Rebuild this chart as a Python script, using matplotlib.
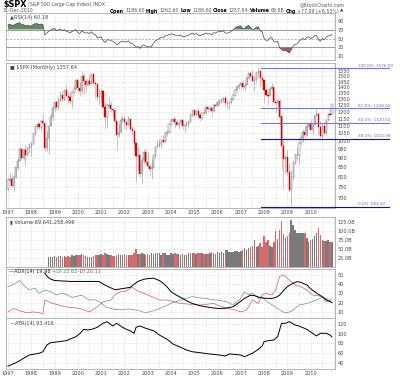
import numpy as np
import matplotlib
matplotlib.use("Agg")
import matplotlib.pyplot as plt

# monthly $SPX, Jan 1997 .. Dec 2010 (index 0 = Jan 1997)
years = list(range(1997, 2011))

opens = [740.74, 786.16, 790.82, 757.12, 801.34, 848.28, 885.14, 954.31, 899.47, 947.28, 914.62, 955.40,
         970.43, 980.28, 1049.34, 1101.75, 1111.75, 1090.82, 1133.84, 1120.67, 957.28, 1017.01, 1098.67, 1163.63,
         1229.23, 1279.64, 1238.33, 1286.37, 1335.18, 1301.84, 1372.71, 1328.72, 1320.41, 1282.71, 1362.93, 1388.91,
         1469.25, 1394.46, 1366.42, 1498.58, 1452.43, 1420.60, 1454.60, 1430.83, 1517.68, 1436.51, 1429.40, 1314.95,
         1320.28, 1366.01, 1239.94, 1160.33, 1249.46, 1255.82, 1224.38, 1211.23, 1133.58, 1040.94, 1059.78, 1139.45,
         1148.08, 1130.20, 1106.73, 1147.39, 1076.92, 1067.14, 989.82, 911.62, 916.07, 815.28, 885.76, 936.31,
         879.82, 855.70, 841.15, 848.18, 916.92, 963.59, 974.50, 990.31, 1008.01, 995.97, 1050.71, 1058.20,
         1111.92, 1131.13, 1144.94, 1126.21, 1107.30, 1120.68, 1140.84, 1101.72, 1104.24, 1114.58, 1130.20, 1173.82,
         1211.92, 1181.27, 1203.60, 1180.59, 1156.85, 1191.50, 1191.33, 1234.18, 1220.33, 1228.81, 1207.01, 1249.48,
         1248.29, 1280.08, 1280.66, 1294.83, 1310.61, 1270.09, 1270.20, 1276.66, 1303.82, 1335.85, 1377.94, 1400.63,
         1418.30, 1438.24, 1406.82, 1420.86, 1482.37, 1530.62, 1503.35, 1455.27, 1473.99, 1526.75, 1549.38, 1481.14,
         1468.36, 1378.55, 1330.63, 1322.70, 1385.59, 1400.38, 1280.00, 1267.38, 1282.83, 1166.36, 968.75, 896.24,
         903.25, 825.88, 735.09, 797.87, 872.81, 919.14, 919.32, 987.48, 1020.62, 1057.08, 1036.19, 1095.63,
         1115.10, 1073.87, 1104.49, 1169.43, 1186.69, 1089.41, 1030.71, 1101.60, 1049.33, 1141.20, 1183.26, 1186.60]

highs = [794.67, 817.68, 814.90, 804.13, 851.87, 898.70, 961.65, 960.32, 960.46, 983.12, 963.18, 986.25,
         992.65, 1051.85, 1105.65, 1123.05, 1121.80, 1138.49, 1190.58, 1121.02, 1066.11, 1098.67, 1192.97, 1244.93,
         1280.00, 1283.00, 1316.70, 1368.52, 1375.98, 1376.25, 1420.33, 1360.25, 1361.31, 1362.93, 1410.03, 1473.00,
         1478.00, 1444.55, 1552.87, 1527.19, 1481.51, 1474.63, 1517.32, 1525.21, 1530.09, 1454.83, 1438.46, 1389.06,
         1383.37, 1376.38, 1267.42, 1269.30, 1315.93, 1286.62, 1239.78, 1226.27, 1135.52, 1110.61, 1163.38, 1173.62,
         1176.55, 1130.20, 1173.94, 1147.84, 1099.29, 1070.66, 994.46, 965.00, 924.02, 907.44, 951.57, 954.28,
         935.05, 864.64, 895.90, 924.24, 965.38, 1015.33, 1015.41, 1011.01, 1040.29, 1053.79, 1063.65, 1112.56,
         1155.38, 1158.98, 1163.23, 1150.57, 1127.74, 1146.18, 1140.84, 1108.96, 1131.54, 1142.05, 1188.46, 1217.33,
         1217.80, 1212.44, 1229.11, 1191.88, 1199.56, 1219.59, 1245.15, 1245.86, 1243.13, 1233.34, 1270.64, 1275.80,
         1294.90, 1297.57, 1310.88, 1318.16, 1326.70, 1290.68, 1280.42, 1306.74, 1340.28, 1389.45, 1407.89, 1431.81,
         1441.61, 1461.57, 1438.89, 1498.02, 1535.56, 1540.56, 1555.90, 1503.89, 1538.74, 1576.09, 1545.79, 1523.57,
         1471.77, 1396.02, 1359.68, 1404.57, 1440.24, 1404.05, 1292.17, 1313.15, 1303.04, 1167.03, 1007.51, 918.85,
         943.85, 875.01, 832.98, 888.70, 930.17, 956.23, 996.68, 1039.47, 1080.15, 1101.36, 1113.69, 1130.38,
         1150.45, 1112.42, 1180.16, 1219.80, 1203.40, 1131.23, 1120.95, 1129.24, 1148.90, 1196.14, 1227.08, 1262.60]

lows = [734.52, 773.43, 756.13, 733.54, 793.21, 836.33, 884.54, 899.00, 891.22, 855.27, 912.89, 926.53,
        912.83, 979.82, 1032.45, 1076.70, 1074.67, 1074.60, 1114.30, 939.98, 939.84, 923.32, 1098.67, 1136.89,
        1205.46, 1211.89, 1226.25, 1282.80, 1276.07, 1281.41, 1325.00, 1268.69, 1263.05, 1233.70, 1341.22, 1387.38,
        1350.13, 1325.07, 1346.62, 1339.40, 1361.09, 1420.60, 1416.14, 1430.82, 1419.44, 1305.79, 1294.90, 1254.07,
        1274.62, 1228.33, 1081.19, 1091.99, 1232.00, 1203.03, 1165.54, 1124.87, 944.75, 1026.76, 1054.31, 1124.72,
        1081.66, 1074.36, 1106.73, 1063.46, 1048.96, 952.92, 775.68, 833.44, 800.20, 768.63, 872.05, 869.45,
        840.34, 806.29, 788.90, 847.85, 902.83, 963.59, 962.10, 960.84, 990.36, 995.97, 1031.20, 1053.41,
        1105.08, 1124.44, 1087.16, 1105.98, 1076.32, 1113.32, 1078.78, 1060.72, 1099.18, 1090.19, 1127.60, 1173.78,
        1163.75, 1180.95, 1163.69, 1136.15, 1146.18, 1188.30, 1183.55, 1201.07, 1205.35, 1168.20, 1201.07, 1246.59,
        1245.74, 1253.61, 1268.42, 1280.74, 1245.34, 1219.29, 1224.54, 1261.30, 1290.93, 1327.10, 1360.98, 1385.93,
        1403.97, 1389.42, 1363.98, 1416.37, 1476.70, 1484.18, 1454.25, 1370.60, 1439.76, 1489.56, 1406.10, 1435.65,
        1270.05, 1316.75, 1256.98, 1324.35, 1373.72, 1272.00, 1200.44, 1247.45, 1106.39, 839.80, 741.02, 815.69,
        804.47, 734.52, 666.79, 783.32, 866.10, 888.86, 869.32, 978.51, 991.97, 1019.95, 1029.38, 1085.89,
        1071.59, 1044.50, 1105.24, 1170.69, 1040.78, 1028.33, 1010.91, 1039.70, 1041.11, 1131.87, 1173.00, 1186.60]

closes = [786.16, 790.82, 757.12, 801.34, 848.28, 885.14, 954.31, 899.47, 947.28, 914.62, 955.40, 970.43,
          980.28, 1049.34, 1101.75, 1111.75, 1090.82, 1133.84, 1120.67, 957.28, 1017.01, 1098.67, 1163.63, 1229.23,
          1279.64, 1238.33, 1286.37, 1335.18, 1301.84, 1372.71, 1328.72, 1320.41, 1282.71, 1362.93, 1388.91, 1469.25,
          1394.46, 1366.42, 1498.58, 1452.43, 1420.60, 1454.60, 1430.83, 1517.68, 1436.51, 1429.40, 1314.95, 1320.28,
          1366.01, 1239.94, 1160.33, 1249.46, 1255.82, 1224.38, 1211.23, 1133.58, 1040.94, 1059.78, 1139.45, 1148.08,
          1130.20, 1106.73, 1147.39, 1076.92, 1067.14, 989.82, 911.62, 916.07, 815.28, 885.76, 936.31, 879.82,
          855.70, 841.15, 848.18, 916.92, 963.59, 974.50, 990.31, 1008.01, 995.97, 1050.71, 1058.20, 1111.92,
          1131.13, 1144.94, 1126.21, 1107.30, 1120.68, 1140.84, 1101.72, 1104.24, 1114.58, 1130.20, 1173.82, 1211.92,
          1181.27, 1203.60, 1180.59, 1156.85, 1191.50, 1191.33, 1234.18, 1220.33, 1228.81, 1207.01, 1249.48, 1248.29,
          1280.08, 1280.66, 1294.83, 1310.61, 1270.09, 1270.20, 1276.66, 1303.82, 1335.85, 1377.94, 1400.63, 1418.30,
          1438.24, 1406.82, 1420.86, 1482.37, 1530.62, 1503.35, 1455.27, 1473.99, 1526.75, 1549.38, 1481.14, 1468.36,
          1378.55, 1330.63, 1322.70, 1385.59, 1400.38, 1280.00, 1267.38, 1282.83, 1166.36, 968.75, 896.24, 903.25,
          825.88, 735.09, 797.87, 872.81, 919.14, 919.32, 987.48, 1020.62, 1057.08, 1036.19, 1095.63, 1115.10,
          1073.87, 1104.49, 1169.43, 1186.69, 1089.41, 1030.71, 1101.60, 1049.33, 1141.20, 1183.26, 1180.55, 1257.64]

# RSI(14), one value per month
rsi = [80, 82, 79, 80, 82, 84, 85, 80, 81, 78, 79, 78,
       78, 81, 83, 83, 81, 82, 81, 58, 62, 66, 69, 71,
       72, 68, 69, 71, 67, 70, 66, 65, 62, 66, 67, 70,
       63, 61, 67, 64, 62, 63, 61, 65, 60, 59, 52, 52,
       54, 46, 41, 47, 47, 45, 44, 41, 36, 38, 43, 44,
       43, 42, 45, 40, 39, 35, 31, 32, 28, 33, 36, 33,
       32, 31, 32, 40, 45, 47, 50, 53, 52, 56, 56, 59,
       60, 60, 58, 56, 57, 58, 54, 54, 56, 57, 60, 62,
       59, 61, 58, 56, 59, 59, 62, 60, 61, 58, 63, 62,
       65, 65, 66, 67, 62, 62, 63, 66, 69, 73, 76, 77,
       78, 72, 73, 77, 79, 75, 70, 71, 75, 76, 67, 65,
       50, 46, 46, 51, 52, 43, 42, 44, 29, 26, 23, 24,
       21, 18, 25, 33, 37, 38, 44, 47, 50, 48, 52, 54,
       50, 52, 56, 57, 48, 44, 50, 47, 53, 56, 56, 60.18]

# volume in billions, from Oct 1998 (month 21)
vol_start = 21
volume = [28.0, 27.5, 29.0,
          29.5, 28.0, 30.0, 31.0, 29.0, 30.0, 28.5, 29.5, 29.0, 32.0, 31.0, 32.5,
          33.5, 33.0, 36.0, 32.0, 30.0, 29.0, 28.5, 28.0, 30.0, 33.5, 32.0, 34.0,
          36.0, 33.0, 38.5, 36.0, 34.0, 32.0, 31.0, 30.0, 33.5, 36.5, 33.5, 32.5,
          35.0, 33.5, 33.0, 34.5, 34.5, 38.0, 49.0, 36.0, 35.0, 40.0, 36.0, 33.0,
          36.0, 33.0, 38.0, 36.0, 38.0, 38.5, 38.0, 32.0, 38.0, 38.5, 34.5, 34.5,
          38.5, 36.0, 40.0, 36.0, 36.0, 34.0, 36.5, 32.0, 34.5, 38.5, 38.0, 38.0,
          38.0, 36.5, 39.5, 40.0, 38.0, 36.5, 36.0, 37.0, 38.0, 42.0, 38.5, 37.0,
          42.0, 38.5, 42.5, 40.0, 47.0, 46.0, 42.0, 42.0, 42.0, 45.0, 44.5, 43.0,
          44.0, 48.0, 52.0, 47.0, 54.0, 56.0, 59.0, 76.0, 56.0, 60.0, 66.0, 56.0,
          88.0, 70.0, 76.0, 60.0, 56.0, 70.0, 101.0, 78.0, 105.0, 128.0, 92.0, 82.0,
          86.0, 95.0, 133.0, 119.0, 105.0, 95.0, 95.0, 95.0, 95.0, 96.0, 82.0, 71.0,
          76.0, 78.0, 87.0, 96.0, 109.0, 90.0, 76.0, 72.0, 74.0, 76.0, 70.0, 69.64]

adx_m = [19, 20, 21, 22, 24, 28, 32, 36, 40, 44, 47, 50, 53, 55, 57, 60, 63, 65, 67, 70, 73, 75, 78, 80,
         82, 84, 86, 89, 92, 95, 99, 103, 106, 109, 112, 116, 119, 122, 125, 127, 129, 131, 133, 136, 138,
         140, 142, 144, 146, 149, 151, 154, 156, 158, 160, 162, 164, 167]
adx_v = [52, 49, 47, 45.5, 44, 43.5, 43, 43, 43, 43, 42.8, 39, 36, 34, 34.5, 35.5, 36.6, 40, 43, 45.4, 46.3,
         46.5, 44, 41, 37, 32, 29, 25.6, 22, 19, 16.5, 15, 14, 13.5, 13.8, 15.3, 20, 24.5, 28, 27.5, 26, 25,
         24.5, 24.5, 25.5, 28, 33, 37.3, 40, 42.8, 42, 39.2, 35, 31.8, 29, 26.3, 23, 19.98]

pdi_m = [0, 3, 6, 9, 11, 14, 16, 19, 22, 25, 28, 30, 33, 36, 38, 42, 45, 47, 51, 55, 59, 62, 64, 68, 71, 73,
         75, 78, 82, 85, 89, 92, 95, 99, 102, 105, 108, 111, 113, 116, 118, 120, 122, 124, 126, 128, 129, 131,
         133, 135, 138, 140, 142, 144, 147, 150, 152, 154, 157, 159, 162, 164, 167]
pdi_v = [37, 40, 44, 37, 34, 35.5, 30, 33.6, 31.8, 28.2, 30, 29, 25.5, 27, 28, 22.7, 23, 21, 14.5, 12.5, 12,
         13, 12.5, 11, 8.5, 10, 11, 13.5, 17, 20, 22.7, 24.5, 26.5, 25, 24.5, 23, 22.7, 21.5, 20.8, 17.2, 21,
         24.5, 31.8, 28.2, 30, 27, 24.5, 26.3, 22, 19, 15, 11.7, 9.5, 8.7, 11.7, 17.2, 18, 19, 21, 22.7, 25.6,
         20.8, 23.63]

mdi_m = [0, 3, 6, 10, 13, 18, 19, 23, 30, 37, 42, 46, 49, 53, 55, 58, 60, 64, 66, 70, 75, 78, 82, 89, 99,
         106, 108, 113, 116, 120, 123, 126, 129, 131, 133, 136, 138, 140, 142, 144, 145, 148, 151, 154, 157,
         161, 164, 167]
mdi_v = [9.8, 13.5, 11, 8.7, 9.8, 8, 22.7, 19, 15.3, 13.5, 9.8, 15.3, 20.8, 22.7, 28.2, 31.8, 31.8, 36.6,
         33.6, 30, 25.6, 22.7, 22.7, 19, 17.2, 19, 17.2, 13.5, 12.5, 9.8, 11.7, 22.7, 19, 28.2, 30, 28.2, 33.6,
         48.3, 50.1, 46.5, 44.6, 39.2, 37.3, 33.6, 28.2, 27, 24.5, 20.11]

atr_m = [0, 3, 6, 8, 11, 14, 16, 18, 20, 22, 26, 30, 33, 35, 37, 39, 41, 44, 46, 49, 51, 54, 56, 59, 61, 63,
         65, 66, 68, 71, 75, 78, 82, 85, 89, 92, 95, 99, 104, 109, 112, 114, 117, 120, 122, 125, 126, 129,
         131, 132, 134, 137, 139, 141, 143, 145, 148, 150, 154, 157, 159, 161, 164, 166, 167]
atr_v = [33, 38, 44, 49, 56, 58, 59.4, 62.7, 76.6, 81.4, 83.4, 85.5, 90.4, 93.7, 100, 109, 107.6, 110,
         113.2, 121.5, 124.8, 115.9, 121.5, 113.2, 109, 106.2, 100.8, 113.2, 115.9, 111.1, 106.2, 97.3, 88.4,
         78.7, 71.8, 66.2, 62.7, 60.7, 58, 55.9, 53.8, 58, 57, 55.9, 52.4, 58, 59.4, 67.7, 74.5, 83.4, 85.5,
         86.9, 93.7, 121.5, 121.5, 124.8, 117.9, 115.9, 109, 100.8, 95.2, 100.8, 100.8, 97.3, 93.416]

fib_pct = ["100.0%", "61.8%", "50.0%", "38.2%", "0.0%"]
fib_val = [1576.09, 1228.02, 1120.50, 1012.99, 664.92]

W, H = 400, 376
fig = plt.figure(figsize=(4, 3.76), dpi=100)
fig.patch.set_facecolor("white")

XL = (-1.03, 168.56)
GRID = "#cfcfcf"
LBL = "#444444"
FS = 3.6
n = len(closes)
months = np.arange(n)
year_pos = [12 * k for k in range(len(years))]


def panel(top, bottom):
    ax = fig.add_axes([6 / W, 1 - bottom / H, 329 / W, (bottom - top) / H])
    ax.set_xlim(*XL)
    for s in ax.spines.values():
        s.set_color("#aaaaaa")
        s.set_linewidth(0.6)
    ax.yaxis.tick_right()
    ax.tick_params(axis="y", length=0, pad=2, labelsize=FS, labelcolor=LBL)
    ax.tick_params(axis="x", length=0, pad=1.5, labelsize=FS, labelcolor=LBL)
    ax.set_xticks([])
    for m in range(0, n + 1, 6):
        ax.axvline(m, color=GRID, lw=0.5, ls=(0, (1, 1.5)), zorder=0)
    return ax


def hgrid(ax, vals):
    for v in vals:
        ax.axhline(v, color=GRID, lw=0.5, ls=(0, (1, 1.5)), zorder=0)


def text_row(x, y, parts):
    r = fig.canvas.get_renderer()
    xf = x / W
    for s, size, weight, color in parts:
        t = fig.text(xf, 1 - y / H, s, fontsize=size, fontweight=weight, color=color, va="center", ha="left")
        xf += t.get_window_extent(renderer=r).width / W + 1.2 / W


# header
text_row(3, 4.5, [(r"\$SPX", 5.8, "bold", "black"),
                  ("(S&P 500 Large Cap Index) INDX", 3.4, "normal", "#555555")])
fig.text(3 / W, 1 - 11 / H, "31-Dec-2010", fontsize=3.4, color="#555555", va="center")
text_row(110, 11, [("Open", 3.4, "bold", "black"), ("1186.60", 3.4, "normal", "#555555"),
                   ("High", 3.4, "bold", "black"), ("1262.60", 3.4, "normal", "#555555"),
                   ("Low", 3.4, "bold", "black"), ("1186.60", 3.4, "normal", "#555555"),
                   ("Close", 3.4, "bold", "black"), ("1257.64", 3.4, "normal", "#555555"),
                   ("Volume", 3.4, "bold", "black"), ("69.6B", 3.4, "normal", "#555555"),
                   ("Chg", 3.4, "bold", "black"), ("+77.09 (+6.53%)", 3.4, "normal", "#555555"),
                   ("\u25b2", 3.0, "normal", "#333333")])
fig.text(345 / W, 1 - 4.5 / H, "@StockCharts.com", fontsize=3.4, color="#555555", va="center", ha="right")

# RSI panel
ax1 = panel(13, 60)
ax1.set_ylim(2.2, 106.7)
ax1.set_yticks([90, 70, 50, 30, 10])
hgrid(ax1, [90, 10])
ax1.axhline(70, color="#888888", lw=0.6, zorder=1)
ax1.axhline(30, color="#888888", lw=0.6, zorder=1)
ax1.axhline(50, color="#999999", lw=0.5, ls=(0, (3, 2)), zorder=1)
r = np.array(rsi)
ax1.fill_between(months, r, 70, where=r >= 70, interpolate=True, color="#5e8c5e", lw=0, zorder=2)
ax1.fill_between(months, r, 30, where=r <= 30, interpolate=True, color="#a35a5a", lw=0, zorder=2)
ax1.plot(months, r, color="#444444", lw=0.5, zorder=3)
ax1.text(0.012, 0.96, "\u25b2RSI(14) 60.18", transform=ax1.transAxes, fontsize=FS, color=LBL, va="top")

# price panel
ax2 = panel(63, 207.5)
ax2.set_yscale("log")
ax2.set_ylim(660.9, 1629.5)
pticks = list(range(700, 1551, 50))
ax2.set_yticks(pticks)
ax2.set_yticklabels([str(p) for p in pticks])
ax2.minorticks_off()
ax2.tick_params(axis="y", which="minor", length=0)
hgrid(ax2, pticks)
ax2.set_xticks(year_pos)
ax2.set_xticklabels([str(y) for y in years])
for i in range(n):
    o, h, l, c = opens[i], highs[i], lows[i], closes[i]
    up = c >= o
    col = "#606060" if up else "#d40000"
    wick = "#9a9a9a" if up else "#e59090"
    ax2.vlines(i, l, h, color=wick, lw=0.45, zorder=2)
    ax2.bar(i, abs(c - o) + 0.5, bottom=min(o, c), width=0.6,
            facecolor="white" if up else "#d40000", edgecolor=col, lw=0.3, zorder=3)
fib_col = ["#7474f2", "#7474f2", "#7474f2", "#1010c0", "#1010c0"]
for pct, v, fc in zip(fib_pct, fib_val, fib_col):
    ax2.plot([130.5, 196.5], [v, v], color=fc, lw=0.8, clip_on=False, zorder=4)
    ax2.text(180.2, v * 1.004, f"{pct}: {v:.2f}", fontsize=3.0, color="#6a6ab0", va="bottom", ha="left",
             clip_on=False)
ax2.text(0.012, 0.985, "\u25a0 \\$SPX (Monthly) 1257.64", transform=ax2.transAxes, fontsize=FS, color=LBL,
         va="top")

# volume panel
ax3 = panel(217, 266.8)
ax3.set_ylim(0, 140.5)
vticks = [125, 100, 75, 50, 25]
ax3.set_yticks(vticks)
ax3.set_yticklabels([f"{v:.1f}B" for v in vticks])
hgrid(ax3, vticks)
vm = np.arange(vol_start, vol_start + len(volume))
vcol = ["#d9686c" if closes[m] < closes[m - 1] else "#7a7a7a" for m in vm]
ax3.bar(vm, volume, width=0.78, color=vcol, lw=0, zorder=2)
ax3.text(0.012, 0.96, "\u25ae Volume 69,641,258,496", transform=ax3.transAxes, fontsize=FS, color=LBL,
         va="top")

# ADX panel
ax4 = panel(268.5, 318.3)
ax4.set_ylim(2.8, 57.1)
aticks = [50, 40, 30, 20, 10]
ax4.set_yticks(aticks)
hgrid(ax4, aticks)
ax4.plot(pdi_m, pdi_v, color="#5f9c70", lw=0.5, zorder=2)
ax4.plot(mdi_m, mdi_v, color="#cc5c5c", lw=0.5, zorder=2)
ax4.plot(adx_m, adx_v, color="black", lw=0.7, zorder=3)
text_row(9, 271.5, [("\u2014ADX(14) 19.98", FS, "normal", "#222222"),
                    ("+DI 23.63", FS, "normal", "#3e8a55"),
                    ("-DI 20.11", FS, "normal", "#c03c3c")])

# ATR panel
ax5 = panel(318.3, 368.7)
ax5.set_ylim(27.6, 131.8)
tticks = [120, 100, 80, 60, 40]
ax5.set_yticks(tticks)
hgrid(ax5, tticks)
ax5.plot(atr_m, atr_v, color="black", lw=0.7, zorder=3)
ax5.set_xticks(year_pos)
ax5.set_xticklabels([str(y) for y in years])
ax5.text(0.012, 0.955, "\u2014ATR(14) 93.416", transform=ax5.transAxes, fontsize=FS, color=LBL, va="top")

fig.savefig("out.png", dpi=100, facecolor="white")
